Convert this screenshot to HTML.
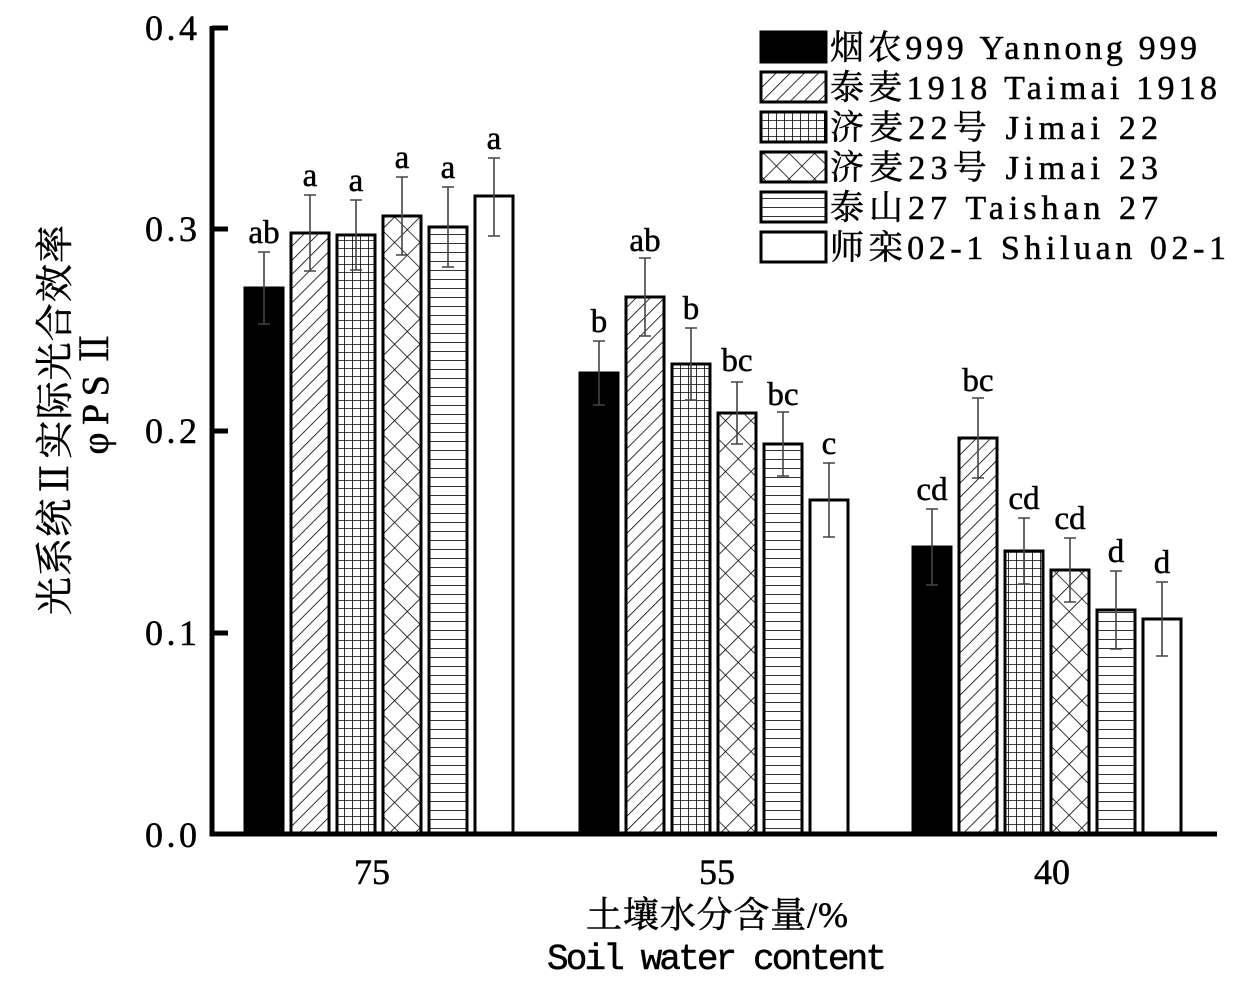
<!DOCTYPE html>
<html><head><meta charset="utf-8"><style>
html,body{margin:0;padding:0;background:#fff;}
svg{display:block;}
text{font-family:"Liberation Serif","Noto Serif CJK SC",serif;fill:#000;stroke:#000;stroke-width:0.5;}
.m{font-family:"Liberation Mono","Noto Serif CJK SC",monospace;}
</style></head><body>
<svg width="1244" height="996" viewBox="0 0 1244 996" xmlns="http://www.w3.org/2000/svg">
<defs>
<pattern id="d" width="10" height="10" patternUnits="userSpaceOnUse" patternTransform="rotate(45)"><line x1="0" y1="0" x2="0" y2="10" stroke="#000" stroke-width="1.6"/></pattern>
<pattern id="g" width="8" height="8" patternUnits="userSpaceOnUse"><path d="M0 0H8M0 0V8" stroke="#000" stroke-width="1.6" fill="none"/></pattern>
<pattern id="x" width="18" height="18" patternUnits="userSpaceOnUse" patternTransform="rotate(45)"><path d="M0 0H18M0 0V18" stroke="#000" stroke-width="1.6" fill="none"/></pattern>
<pattern id="h" width="10" height="9" patternUnits="userSpaceOnUse"><path d="M0 0H10" stroke="#000" stroke-width="1.6" fill="none"/></pattern>
</defs>
<g stroke="#000" stroke-width="3">
<rect x="245" y="288" width="38" height="546" fill="#000"/>
<rect x="291" y="233" width="38" height="601" fill="url(#d)"/>
<rect x="337" y="235" width="38" height="599" fill="url(#g)"/>
<rect x="383" y="216" width="38" height="618" fill="url(#x)"/>
<rect x="429" y="227" width="38" height="607" fill="url(#h)"/>
<rect x="475" y="196" width="38" height="638" fill="#fff"/>
<rect x="580" y="373" width="38" height="461" fill="#000"/>
<rect x="626" y="297" width="38" height="537" fill="url(#d)"/>
<rect x="672" y="364" width="38" height="470" fill="url(#g)"/>
<rect x="718" y="413" width="38" height="421" fill="url(#x)"/>
<rect x="764" y="444" width="38" height="390" fill="url(#h)"/>
<rect x="810" y="500" width="38" height="334" fill="#fff"/>
<rect x="913" y="547" width="38" height="287" fill="#000"/>
<rect x="959" y="438" width="38" height="396" fill="url(#d)"/>
<rect x="1005" y="551" width="38" height="283" fill="url(#g)"/>
<rect x="1051" y="570" width="38" height="264" fill="url(#x)"/>
<rect x="1097" y="610" width="38" height="224" fill="url(#h)"/>
<rect x="1143" y="619" width="38" height="215" fill="#fff"/>
</g>
<g stroke="#444" stroke-width="1.6" fill="none">
<path d="M264 252V324M258 252H270M258 324H270"/>
<path d="M310 195V271M304 195H316M304 271H316"/>
<path d="M356 200V270M350 200H362M350 270H362"/>
<path d="M402 177V255M396 177H408M396 255H408"/>
<path d="M448 187V267M442 187H454M442 267H454"/>
<path d="M494 158V236M488 158H500M488 236H500"/>
<path d="M599 341V405M593 341H605M593 405H605"/>
<path d="M645 258V336M639 258H651M639 336H651"/>
<path d="M691 328V400M685 328H697M685 400H697"/>
<path d="M737 382V444M731 382H743M731 444H743"/>
<path d="M783 412V476M777 412H789M777 476H789"/>
<path d="M829 463V537M823 463H835M823 537H835"/>
<path d="M932 509V585M926 509H938M926 585H938"/>
<path d="M978 398V478M972 398H984M972 478H984"/>
<path d="M1024 518V584M1018 518H1030M1018 584H1030"/>
<path d="M1070 538V602M1064 538H1076M1064 602H1076"/>
<path d="M1116 571V649M1110 571H1122M1110 649H1122"/>
<path d="M1162 582V656M1156 582H1168M1156 656H1168"/>
</g>
<g font-size="33" text-anchor="middle">
<text x="264" y="243">ab</text><text x="310" y="186">a</text><text x="356" y="191">a</text><text x="402" y="168">a</text><text x="448" y="178">a</text><text x="494" y="149">a</text>
<text x="599" y="332">b</text><text x="645" y="251">ab</text><text x="691" y="319">b</text><text x="737" y="371">bc</text><text x="783" y="405">bc</text><text x="829" y="454">c</text>
<text x="932" y="500">cd</text><text x="978" y="391">bc</text><text x="1024" y="509">cd</text><text x="1070" y="529">cd</text><text x="1116" y="562">d</text><text x="1162" y="573">d</text>
</g>
<path d="M212 26V834H1217" stroke="#000" stroke-width="5" fill="none"/>
<g stroke="#000" stroke-width="5"><path d="M212 28H228M212 229H228M212 431H228M212 633H228"/></g>
<g font-size="36" text-anchor="end">
<text x="197" y="40" textLength="52">0.4</text><text x="197" y="241" textLength="52">0.3</text><text x="197" y="443" textLength="52">0.2</text><text x="197" y="645" textLength="52">0.1</text><text x="197" y="847" textLength="52">0.0</text>
</g>
<g font-size="36" text-anchor="middle">
<text x="372" y="884">75</text><text x="717" y="884">55</text><text x="1052" y="884">40</text>
<text x="717" y="927" textLength="262">土壤水分含量/%</text>
<text x="717" y="969" class="m" textLength="340">Soil water content</text>
</g>
<g font-size="38" text-anchor="middle">
<text transform="translate(68,420) rotate(-90)" textLength="390">光系统Ⅱ实际光合效率</text>
<text transform="translate(108,392) rotate(-90)" textLength="125">φPSⅡ</text>
</g>
<g stroke="#000" stroke-width="3">
<rect x="761" y="32" width="65" height="30" fill="#000"/>
<rect x="761" y="72" width="65" height="30" fill="url(#d)"/>
<rect x="761" y="112" width="65" height="30" fill="url(#g)"/>
<rect x="761" y="152" width="65" height="30" fill="url(#x)"/>
<rect x="761" y="192" width="65" height="30" fill="url(#h)"/>
<rect x="761" y="232" width="65" height="30" fill="#fff"/>
</g>
<g font-size="34" class="m">
<text x="830" y="59" textLength="367">烟农999 Yannong 999</text>
<text x="830" y="99" textLength="387">泰麦1918 Taimai 1918</text>
<text x="830" y="139" textLength="328">济麦22号 Jimai 22</text>
<text x="830" y="179" textLength="328">济麦23号 Jimai 23</text>
<text x="830" y="219" textLength="328">泰山27 Taishan 27</text>
<text x="830" y="259" textLength="396">师栾02-1 Shiluan 02-1</text>
</g>
</svg>
</body></html>
